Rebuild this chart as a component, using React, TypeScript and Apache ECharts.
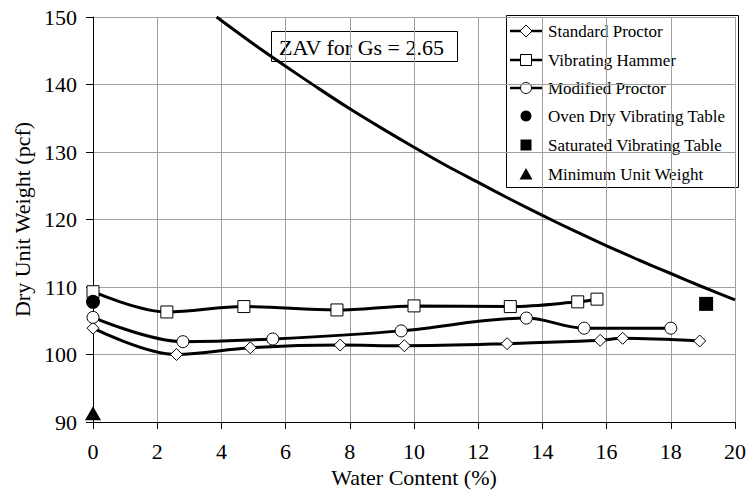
import React, { useEffect, useRef } from "react";
import * as echarts from "echarts";

const FONT = "Liberation Serif";

// Standard Proctor
const stdX = [0, 2.6, 4.9, 7.7, 9.7, 12.9, 15.8, 16.5, 18.9];
const stdY = [103.9, 100.0, 101.0, 101.4, 101.3, 101.6, 102.1, 102.4, 102.0];
// Vibrating Hammer
const vhX = [0, 2.3, 4.7, 7.6, 10.0, 13.0, 15.1, 15.7];
const vhY = [109.3, 106.3, 107.1, 106.6, 107.2, 107.1, 107.8, 108.2];
// Modified Proctor
const mpX = [0, 2.8, 5.6, 9.6, 13.5, 15.3, 18.0];
const mpY = [105.5, 101.9, 102.3, 103.5, 105.4, 103.9, 103.9];
// Single points
const ovenDry = [[0, 107.8]];
const saturated = [[19.1, 107.5]];
const minimum = [[0, 91.3]];
// Zero air voids curve
const zavX = [3.85, 5, 6, 7, 8, 9, 10, 11, 12, 13, 14, 15, 16, 17, 18, 19, 20];
const zavY = [150, 146.0, 142.7, 139.5, 136.4, 133.5, 130.7, 128.0, 125.5, 123.0, 120.6, 118.3, 116.1, 114.0, 112.0, 110.0, 108.1];

const legendNames = [
  "Standard Proctor",
  "Vibrating Hammer",
  "Modified Proctor",
  "Oven Dry Vibrating Table",
  "Saturated Vibrating Table",
  "Minimum Unit Weight",
];
const zavLabel = "ZAV for Gs = 2.65";

const zip = (xs: number[], ys: number[]) => xs.map((x, i) => [x, ys[i]]);

const CSS = `svg text, svg tspan { font-family: "Liberation Serif", "Times New Roman", serif !important; }`;

export default function App() {
  const ref = useRef<HTMLDivElement>(null);
  useEffect(() => {
    if (!ref.current) return;
    const chart = echarts.init(ref.current, undefined, { renderer: "svg" });
    const lineSeries = (name: string, data: number[][], symbol: string) => ({
      name,
      type: "line",
      data,
      smooth: 0.35,
      symbol,
      symbolSize: 12,
      showAllSymbol: true,
      clip: false,
      lineStyle: { color: "#000", width: 3 },
      itemStyle: { color: "#fff", borderColor: "#000", borderWidth: 1, opacity: 1 },
      z: 3,
    });
    const dot = (name: string, data: number[][], symbol: string, size: any) => ({
      name,
      type: "scatter",
      data,
      symbol,
      symbolSize: size,
      clip: false,
      itemStyle: { color: "#000", opacity: 1 },
      z: 4,
    });

    // legend drawn as graphics (box, glyphs, texts)
    const LX = 506, LY = 15, LW = 232, LH = 172;
    const rowY = [31, 60, 88, 116, 145, 174];
    const cx = 526;
    const open = { fill: "#fff", stroke: "#000", lineWidth: 1 };
    const solid = { fill: "#000" };
    const glyph = (i: number): any[] => {
      const y = rowY[i];
      const ln = { type: "line", shape: { x1: 510, y1: y, x2: 542, y2: y }, style: { stroke: "#000", lineWidth: 2.5 } };
      switch (i) {
        case 0:
          return [ln, { type: "polygon", shape: { points: [[cx, y - 6], [cx + 6, y], [cx, y + 6], [cx - 6, y]] }, style: open }];
        case 1:
          return [ln, { type: "rect", shape: { x: cx - 5.5, y: y - 5.5, width: 11, height: 11 }, style: open }];
        case 2:
          return [ln, { type: "circle", shape: { cx, cy: y, r: 5.5 }, style: open }];
        case 3:
          return [{ type: "circle", shape: { cx, cy: y, r: 5.5 }, style: solid }];
        case 4:
          return [{ type: "rect", shape: { x: cx - 5.5, y: y - 5.5, width: 11, height: 11 }, style: solid }];
        default:
          return [{ type: "polygon", shape: { points: [[cx, y - 6], [cx + 6.5, y + 5.5], [cx - 6.5, y + 5.5]] }, style: solid }];
      }
    };
    const legendGraphics: any[] = [
      { type: "rect", shape: { x: LX + 0.5, y: LY + 0.5, width: LW, height: LH }, style: { fill: "#fff", stroke: "#000", lineWidth: 1 } },
    ];
    legendNames.forEach((n, i) => {
      legendGraphics.push(...glyph(i));
      legendGraphics.push({
        type: "text",
        x: 548,
        y: rowY[i],
        style: { text: n, fontFamily: FONT, fontSize: 17, fill: "#000", verticalAlign: "middle", align: "left" },
      });
    });

    chart.setOption({
      animation: false,
      backgroundColor: "#fff",
      grid: { left: 93, right: 13, top: 17, bottom: 74 },
      xAxis: {
        type: "value",
        min: 0,
        max: 20,
        interval: 2,
        name: "Water Content (%)",
        nameLocation: "middle",
        nameGap: 44,
        nameTextStyle: { fontFamily: FONT, fontSize: 22, color: "#000" },
        axisLine: { onZero: false, lineStyle: { color: "#000", width: 1 } },
        axisTick: { show: true, length: 7, lineStyle: { color: "#000" } },
        axisLabel: { fontFamily: FONT, fontSize: 22, color: "#000", margin: 18 },
        splitLine: { show: true, lineStyle: { color: "#a0a0a0", width: 1 } },
      },
      yAxis: {
        type: "value",
        min: 90,
        max: 150,
        interval: 10,
        name: "Dry Unit Weight (pcf)",
        nameLocation: "middle",
        nameGap: 58,
        nameTextStyle: { fontFamily: FONT, fontSize: 22, color: "#000" },
        axisLine: { show: true, onZero: false, lineStyle: { color: "#000", width: 1 } },
        axisTick: { show: true, length: 7, lineStyle: { color: "#000" } },
        axisLabel: { fontFamily: FONT, fontSize: 22, color: "#000", margin: 16 },
        splitLine: { show: true, lineStyle: { color: "#a0a0a0", width: 1 } },
      },
      graphic: [
        {
          type: "group",
          z: 100,
          children: [
            ...legendGraphics,
            { type: "rect", shape: { x: 271.5, y: 31.5, width: 186, height: 30 }, style: { fill: "#fff", stroke: "#000", lineWidth: 1 } },
            {
              type: "text",
              x: 279,
              y: 47,
              style: { text: zavLabel, fontFamily: FONT, fontSize: 22, fill: "#000", verticalAlign: "middle", align: "left" },
            },
          ],
        },
      ],
      series: [
        {
          name: "ZAV",
          type: "line",
          data: zip(zavX, zavY),
          smooth: 0.3,
          showSymbol: false,
          symbol: "none",
          lineStyle: { color: "#000", width: 3 },
          z: 2,
        },
        lineSeries(legendNames[0], zip(stdX, stdY), "diamond"),
        lineSeries(legendNames[1], zip(vhX, vhY), "rect"),
        lineSeries(legendNames[2], zip(mpX, mpY), "circle"),
        dot(legendNames[3], ovenDry, "circle", 14),
        dot(legendNames[4], saturated, "rect", 14),
        dot(legendNames[5], minimum, "triangle", [16, 14]),
      ],
    });
    return () => chart.dispose();
  }, []);
  return (
    <>
      <style>{CSS}</style>
      <div
        ref={ref}
        style={{ position: "fixed", left: 0, top: 0, width: 749, height: 496 }}
      />
    </>
  );
}
